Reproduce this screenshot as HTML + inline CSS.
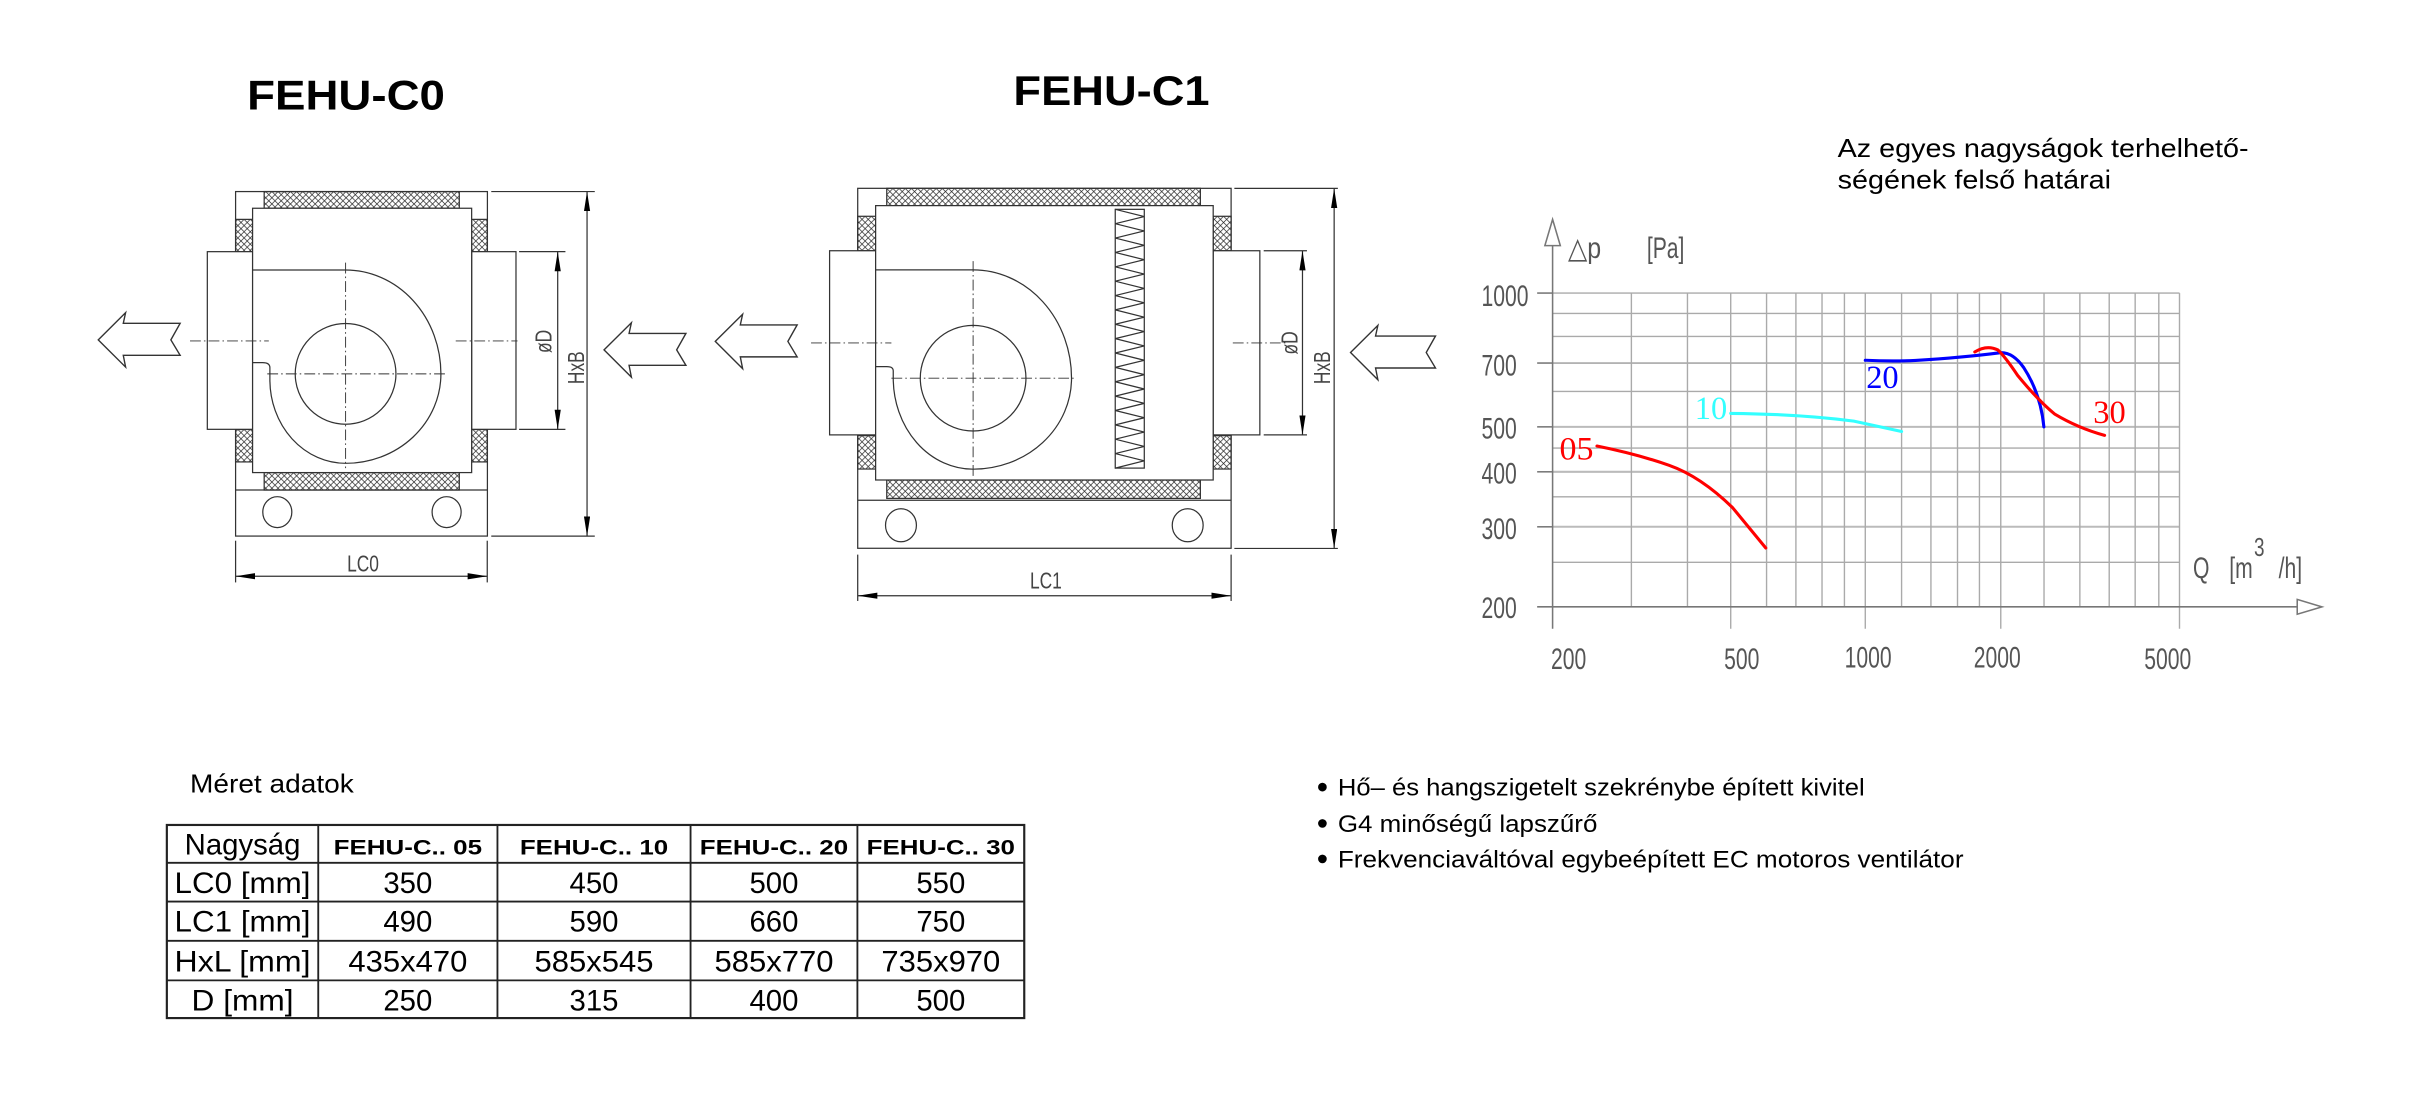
<!DOCTYPE html>
<html><head><meta charset="utf-8"><style>
html,body{margin:0;padding:0;background:#fff;}
svg{display:block;}
</style></head><body>
<svg width="2410" height="1110" viewBox="0 0 1560 718.5" xmlns="http://www.w3.org/2000/svg" font-family="'Liberation Sans',sans-serif">
<defs>
<pattern id="hx" width="4" height="4" patternUnits="userSpaceOnUse">
<path d="M0,0 L4,4 M4,0 L0,4" stroke="#222" stroke-width="0.45" fill="none"/>
</pattern>
<marker id="ah" markerWidth="13" markerHeight="5" refX="12.7" refY="2" orient="auto-start-reverse" markerUnits="userSpaceOnUse">
<path d="M0,0 L12.7,2 L0,4 Z" fill="#000"/>
</marker>
</defs>
<rect width="1560" height="718.5" fill="#fff"/>

<text x="160" y="71" font-size="27" font-weight="bold" textLength="128" lengthAdjust="spacingAndGlyphs">FEHU-C0</text>
<text x="656" y="68" font-size="27" font-weight="bold" textLength="127" lengthAdjust="spacingAndGlyphs">FEHU-C1</text>

<g fill="none" stroke="#333" stroke-width="0.8">
<rect x="152.5" y="124" width="163" height="223"/>
<rect x="171" y="124" width="126.3" height="10.8" fill="url(#hx)"/>
<rect x="171" y="305.9" width="126.3" height="11.3" fill="url(#hx)"/>
<rect x="152.5" y="142" width="11" height="21" fill="url(#hx)"/>
<rect x="152.5" y="278" width="11" height="21" fill="url(#hx)"/>
<rect x="305.3" y="142" width="10.1" height="21" fill="url(#hx)"/>
<rect x="305.3" y="278" width="10.1" height="21" fill="url(#hx)"/>
<rect x="134.2" y="162.9" width="29.3" height="115" fill="#fff"/>
<rect x="305.3" y="162.9" width="28.7" height="115" fill="#fff"/>
<rect x="163.5" y="134.8" width="141.8" height="171.1" fill="#fff"/>
<line x1="152.5" y1="317.2" x2="315.4" y2="317.2"/>
<ellipse cx="179.5" cy="331.5" rx="9.4" ry="10"/>
<ellipse cx="289.1" cy="331.5" rx="9.4" ry="10"/>
<path d="M163.5,174.8 L223.7,174.8 A61.7,67.2 0 0 1 285.4,242 A61.7,57.9 0 0 1 223.7,299.9 A49,54 0 0 1 174.7,245.9 L174.7,238 Q174.7,234.7 170,234.7 L163.5,234.7"/>
<circle cx="223.7" cy="242" r="32.6"/>
<g stroke-dasharray="7,2,1,2" stroke-width="0.6">
<line x1="223.7" y1="170" x2="223.7" y2="303"/>
<line x1="173" y1="242" x2="288" y2="242"/>
<line x1="123" y1="220.7" x2="174" y2="220.7"/>
<line x1="295" y1="220.7" x2="335" y2="220.7"/>
</g>
<line x1="318" y1="124" x2="385" y2="124"/>
<line x1="318" y1="347" x2="385" y2="347"/>
<line x1="380" y1="124" x2="380" y2="347" marker-start="url(#ah)" marker-end="url(#ah)"/>
<line x1="336" y1="162.9" x2="366" y2="162.9"/>
<line x1="336" y1="277.9" x2="366" y2="277.9"/>
<line x1="361" y1="162.9" x2="361" y2="277.9" marker-start="url(#ah)" marker-end="url(#ah)"/>
<line x1="152.5" y1="350" x2="152.5" y2="377"/>
<line x1="315.4" y1="350" x2="315.4" y2="377"/>
<line x1="152.5" y1="373" x2="315.4" y2="373" marker-start="url(#ah)" marker-end="url(#ah)"/>

<rect x="555.2" y="121.9" width="241.7" height="233"/>
<rect x="574" y="121.9" width="203" height="11.2" fill="url(#hx)"/>
<rect x="574" y="310.7" width="203" height="11.9" fill="url(#hx)"/>
<rect x="555.2" y="140" width="11.6" height="22.3" fill="url(#hx)"/>
<rect x="555.2" y="282" width="11.6" height="21.6" fill="url(#hx)"/>
<rect x="785.3" y="140" width="11.6" height="22.3" fill="url(#hx)"/>
<rect x="785.3" y="282" width="11.6" height="21.6" fill="url(#hx)"/>
<rect x="537" y="162.3" width="29.8" height="119.2" fill="#fff"/>
<rect x="785.3" y="162.3" width="30.2" height="119.2" fill="#fff"/>
<rect x="566.8" y="133.1" width="218.5" height="177.6" fill="#fff"/>
<line x1="555.2" y1="323.8" x2="796.9" y2="323.8"/>
<ellipse cx="583.2" cy="340" rx="10" ry="10.7"/>
<ellipse cx="768.8" cy="340" rx="10" ry="10.7"/>
<rect x="721.9" y="135.5" width="18.8" height="167.5"/>
<polyline points="721.9,135.5 740.7,140.2 721.9,144.8 740.7,149.5 721.9,154.1 740.7,158.8 721.9,163.4 740.7,168.1 721.9,172.7 740.7,177.4 721.9,182 740.7,186.7 721.9,191.3 740.7,196 721.9,200.6 740.7,205.3 721.9,209.9 740.7,214.6 721.9,219.2 740.7,223.9 721.9,228.5 740.7,233.2 721.9,237.8 740.7,242.5 721.9,247.1 740.7,251.8 721.9,256.4 740.7,261.1 721.9,265.7 740.7,270.4 721.9,275 740.7,279.7 721.9,284.3 740.7,289 721.9,293.6 740.7,298.3 721.9,303"/>
<path d="M566.8,174.7 L629.9,174.7 A63.7,70.1 0 0 1 693.6,244.8 A63.7,58.9 0 0 1 629.9,303.7 A51.7,58.9 0 0 1 578.2,244.8 L578.2,240 Q578.2,237.3 574,237.3 L566.8,237.3"/>
<circle cx="629.9" cy="244.8" r="34.2"/>
<g stroke-dasharray="7,2,1,2" stroke-width="0.6">
<line x1="629.9" y1="169" x2="629.9" y2="308"/>
<line x1="577" y1="244.8" x2="696" y2="244.8"/>
<line x1="525" y1="222" x2="577" y2="222"/>
<line x1="798" y1="222" x2="834" y2="222"/>
</g>
<line x1="799" y1="121.9" x2="866" y2="121.9"/>
<line x1="799" y1="355" x2="866" y2="355"/>
<line x1="863.6" y1="121.9" x2="863.6" y2="355" marker-start="url(#ah)" marker-end="url(#ah)"/>
<line x1="818" y1="162.3" x2="846" y2="162.3"/>
<line x1="818" y1="281.5" x2="846" y2="281.5"/>
<line x1="843.1" y1="162.3" x2="843.1" y2="281.5" marker-start="url(#ah)" marker-end="url(#ah)"/>
<line x1="555.2" y1="359" x2="555.2" y2="389"/>
<line x1="796.9" y1="359" x2="796.9" y2="389"/>
<line x1="555.2" y1="385.6" x2="796.9" y2="385.6" marker-start="url(#ah)" marker-end="url(#ah)"/>

<g stroke-width="0.9" fill="#fff">
<path transform="translate(63.6,220)" d="M0,0 L17.7,-17.6 L16.2,-10.7 L53,-10.7 L47,0 L53,10 L16.2,10 L17.7,17.6 Z"/>
<path transform="translate(391,226.5)" d="M0,0 L17.7,-17.6 L16.2,-10.7 L53,-10.7 L47,0 L53,10 L16.2,10 L17.7,17.6 Z"/>
<path transform="translate(463,221)" d="M0,0 L17.7,-17.6 L16.2,-10.7 L53,-10.7 L47,0 L53,10 L16.2,10 L17.7,17.6 Z"/>
<path transform="translate(874.2,228.2)" d="M0,0 L17.7,-17.6 L16.2,-10.7 L55,-10.7 L49,0 L55,10 L16.2,10 L17.7,17.6 Z"/>
</g>
</g>

<g fill="#444" font-size="15">
<text transform="translate(378,238) rotate(-90) scale(0.75,1)" text-anchor="middle">HxB</text>
<text transform="translate(357,221) rotate(-90) scale(0.75,1)" text-anchor="middle">øD</text>
<text transform="translate(235,370) scale(0.75,1)" text-anchor="middle">LC0</text>
<text transform="translate(861,238) rotate(-90) scale(0.75,1)" text-anchor="middle">HxB</text>
<text transform="translate(840,222) rotate(-90) scale(0.75,1)" text-anchor="middle">øD</text>
<text transform="translate(677,381) scale(0.75,1)" text-anchor="middle">LC1</text>
</g>

<text x="1189.5" y="101.5" font-size="17" textLength="266" lengthAdjust="spacingAndGlyphs">Az egyes nagyságok terhelhető-</text>
<text x="1189.5" y="122" font-size="17" textLength="177" lengthAdjust="spacingAndGlyphs">ségének felső határai</text>

<g stroke="#aaa" stroke-width="0.9" fill="none">
<line x1="1005" y1="189.7" x2="1410.8" y2="189.7"/>
<line x1="1005" y1="202.9" x2="1410.8" y2="202.9"/>
<line x1="1005" y1="217.8" x2="1410.8" y2="217.8"/>
<line x1="1005" y1="253.4" x2="1410.8" y2="253.4"/>
<line x1="1005" y1="290" x2="1410.8" y2="290"/>
<line x1="1005" y1="321.6" x2="1410.8" y2="321.6"/>
<line x1="1005" y1="364" x2="1410.8" y2="364"/>
<line x1="1005" y1="235" x2="1410.8" y2="235" stroke="#999"/>
<line x1="1005" y1="276.3" x2="1410.8" y2="276.3" stroke="#bbb" stroke-width="1.3"/>
<line x1="1005" y1="305.4" x2="1410.8" y2="305.4" stroke="#bbb" stroke-width="1.3"/>
<line x1="1005" y1="341" x2="1410.8" y2="341" stroke="#bbb" stroke-width="1.3"/>
<line x1="1056" y1="189.7" x2="1056" y2="392.8"/>
<line x1="1092.3" y1="189.7" x2="1092.3" y2="392.8"/>
<line x1="1120.3" y1="189.7" x2="1120.3" y2="407"/>
<line x1="1143.5" y1="189.7" x2="1143.5" y2="392.8"/>
<line x1="1162.5" y1="189.7" x2="1162.5" y2="392.8"/>
<line x1="1179.4" y1="189.7" x2="1179.4" y2="392.8"/>
<line x1="1193.9" y1="189.7" x2="1193.9" y2="392.8"/>
<line x1="1207.4" y1="189.7" x2="1207.4" y2="407"/>
<line x1="1230.9" y1="189.7" x2="1230.9" y2="392.8"/>
<line x1="1249.9" y1="189.7" x2="1249.9" y2="392.8"/>
<line x1="1267.1" y1="189.7" x2="1267.1" y2="392.8"/>
<line x1="1281.3" y1="189.7" x2="1281.3" y2="392.8"/>
<line x1="1295.1" y1="189.7" x2="1295.1" y2="407"/>
<line x1="1323.1" y1="189.7" x2="1323.1" y2="392.8"/>
<line x1="1346.3" y1="189.7" x2="1346.3" y2="392.8"/>
<line x1="1365.3" y1="189.7" x2="1365.3" y2="392.8"/>
<line x1="1382.1" y1="189.7" x2="1382.1" y2="392.8"/>
<line x1="1397.4" y1="189.7" x2="1397.4" y2="392.8"/>
<line x1="1410.8" y1="189.7" x2="1410.8" y2="407"/>
</g>
<g stroke="#777" stroke-width="1" fill="none">
<line x1="995" y1="189.7" x2="1005" y2="189.7"/>
<line x1="995" y1="235" x2="1005" y2="235"/>
<line x1="995" y1="276.3" x2="1005" y2="276.3"/>
<line x1="995" y1="305.4" x2="1005" y2="305.4"/>
<line x1="995" y1="341" x2="1005" y2="341"/>
<line x1="1005" y1="158" x2="1005" y2="407"/>
<line x1="995" y1="392.8" x2="1487" y2="392.8"/>
<path d="M1005,142 L1000,159 L1010,159 Z" fill="#fff"/>
<path d="M1503,392.8 L1487,388 L1487,397.6 Z" fill="#fff"/>
</g>
<g fill="#555" font-size="19">
<text transform="translate(1015,167) scale(0.85,1)">△p</text>
<text transform="translate(1066,167) scale(0.72,1)">[Pa]</text>
<text transform="translate(959,198) scale(0.72,1)">1000</text>
<text transform="translate(959,243) scale(0.72,1)">700</text>
<text transform="translate(959,284) scale(0.72,1)">500</text>
<text transform="translate(959,313) scale(0.72,1)">400</text>
<text transform="translate(959,349) scale(0.72,1)">300</text>
<text transform="translate(959,400) scale(0.72,1)">200</text>
<text transform="translate(1004,433) scale(0.72,1)">200</text>
<text transform="translate(1116,433) scale(0.72,1)">500</text>
<text transform="translate(1194,432) scale(0.72,1)">1000</text>
<text transform="translate(1277.6,432) scale(0.72,1)">2000</text>
<text transform="translate(1388,433) scale(0.72,1)">5000</text>
<text transform="translate(1419.5,374) scale(0.72,1)">Q</text>
<text transform="translate(1443,374) scale(0.72,1)">[m</text>
<text transform="translate(1475,374) scale(0.72,1)">/h]</text>
<text transform="translate(1459,360) scale(0.72,1)" font-size="17">3</text>
</g>
<g fill="none" stroke-width="2" stroke-linecap="round">
<path d="M1033.7,288.7 Q1060,294 1080.4,301.2 T1121.5,328.6 L1143,354.7" stroke="#f00"/>
<path d="M1120.3,267.6 Q1165,268 1200,272.6 L1230.9,279.3" stroke="#3ff"/>
<path d="M1207.4,233.2 Q1225,234 1240,233.3 Q1270,231.5 1295,228.3 Q1303,228 1310,238 Q1321,255 1323,276.3" stroke="#00f"/>
<path d="M1278.3,227.8 Q1286,223 1293.2,226.5 Q1298,231 1306,243 Q1320,260 1330,268 Q1345,277 1362.3,281.8" stroke="#f00"/>
</g>
<g font-family="'Liberation Serif',serif" font-size="21">
<text x="1009.5" y="297.5" fill="#f00" textLength="22" lengthAdjust="spacingAndGlyphs">05</text>
<text x="1097" y="271.3" fill="#3ff" textLength="21" lengthAdjust="spacingAndGlyphs">10</text>
<text x="1208" y="251" fill="#00f" textLength="21" lengthAdjust="spacingAndGlyphs">20</text>
<text x="1355" y="273.8" fill="#f00" textLength="21" lengthAdjust="spacingAndGlyphs">30</text>
</g>

<text x="123" y="513" font-size="17" textLength="106" lengthAdjust="spacingAndGlyphs">Méret adatok</text>
<g stroke="#222" fill="none">
<rect x="108" y="534" width="555" height="125" stroke-width="1.4"/>
<line x1="108" y1="558.5" x2="663" y2="558.5" stroke-width="1.2"/>
<line x1="108" y1="583.6" x2="663" y2="583.6" stroke-width="1.2"/>
<line x1="108" y1="609" x2="663" y2="609" stroke-width="1.2"/>
<line x1="108" y1="634.6" x2="663" y2="634.6" stroke-width="1.2"/>
<line x1="206" y1="534" x2="206" y2="659" stroke-width="1.2"/>
<line x1="322" y1="534" x2="322" y2="659" stroke-width="1.2"/>
<line x1="447" y1="534" x2="447" y2="659" stroke-width="1.2"/>
<line x1="555" y1="534" x2="555" y2="659" stroke-width="1.2"/>
</g>
<g font-size="19" text-anchor="middle">
<text x="157" y="553">Nagyság</text>
<g font-size="14" font-weight="bold">
<text x="264" y="553" textLength="96" lengthAdjust="spacingAndGlyphs">FEHU-C.. 05</text>
<text x="384.5" y="553" textLength="96" lengthAdjust="spacingAndGlyphs">FEHU-C.. 10</text>
<text x="501" y="553" textLength="96" lengthAdjust="spacingAndGlyphs">FEHU-C.. 20</text>
<text x="609" y="553" textLength="96" lengthAdjust="spacingAndGlyphs">FEHU-C.. 30</text>
</g>
<text x="157" y="578" textLength="88" lengthAdjust="spacingAndGlyphs">LC0 [mm]</text>
<text x="264" y="578">350</text><text x="384.5" y="578">450</text><text x="501" y="578">500</text><text x="609" y="578">550</text>
<text x="157" y="603" textLength="88" lengthAdjust="spacingAndGlyphs">LC1 [mm]</text>
<text x="264" y="603">490</text><text x="384.5" y="603">590</text><text x="501" y="603">660</text><text x="609" y="603">750</text>
<text x="157" y="629" textLength="88" lengthAdjust="spacingAndGlyphs">HxL [mm]</text>
<text x="264" y="629" textLength="77" lengthAdjust="spacingAndGlyphs">435x470</text><text x="384.5" y="629" textLength="77" lengthAdjust="spacingAndGlyphs">585x545</text><text x="501" y="629" textLength="77" lengthAdjust="spacingAndGlyphs">585x770</text><text x="609" y="629" textLength="77" lengthAdjust="spacingAndGlyphs">735x970</text>
<text x="157" y="654" textLength="66" lengthAdjust="spacingAndGlyphs">D [mm]</text>
<text x="264" y="654">250</text><text x="384.5" y="654">315</text><text x="501" y="654">400</text><text x="609" y="654">500</text>
</g>

<g font-size="15.5">
<circle cx="856" cy="509.5" r="2.8" fill="#000"/>
<circle cx="856" cy="533" r="2.8" fill="#000"/>
<circle cx="856" cy="556" r="2.8" fill="#000"/>
<text x="866" y="515" textLength="341" lengthAdjust="spacingAndGlyphs">Hő– és hangszigetelt szekrénybe épített kivitel</text>
<text x="866" y="538.5" textLength="168" lengthAdjust="spacingAndGlyphs">G4 minőségű lapszűrő</text>
<text x="866" y="561.5" textLength="405" lengthAdjust="spacingAndGlyphs">Frekvenciaváltóval egybeépített EC motoros ventilátor</text>
</g>
</svg>
</body></html>
